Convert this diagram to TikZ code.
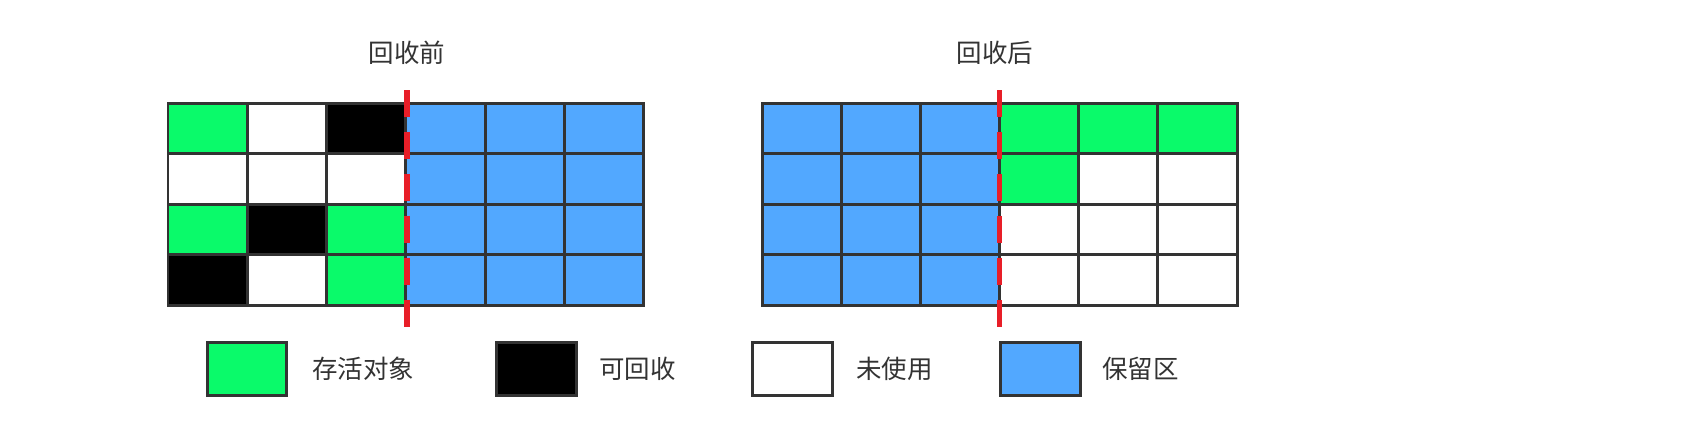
\documentclass[tikz,border=0pt]{standalone}
\usepackage{fontspec}
\newfontfamily\cjk{Noto Sans CJK SC}
\definecolor{alive}{RGB}{10,250,106}
\definecolor{spare}{RGB}{82,168,255}
\definecolor{gridgray}{RGB}{51,51,51}
\definecolor{txtgray}{RGB}{51,51,51}
\definecolor{cutred}{RGB}{232,30,40}
\begin{document}
\begin{tikzpicture}[x=0.02cm,y=-0.02cm,
	every node/.style={font=\cjk\fontsize{14.5}{16}\selectfont,text=txtgray},
	cell/.style={rectangle,draw=gridgray,line width=0.06cm,inner sep=0,
	minimum width=1.587cm,minimum height=1.01cm,fill=#1},
	swatch/.style={rectangle,draw=gridgray,line width=0.06cm,inner sep=0,
	minimum width=1.6cm,minimum height=1.06cm,fill=#1},
	cut/.style={draw=cutred,line width=0.11cm,dash pattern=on 0.54cm off 0.3cm}]
\useasboundingbox (0,0) rectangle (1686,440);
% before collection
\foreach \row [count=\r] in {{alive,white,black,spare,spare,spare},
	{white,white,white,spare,spare,spare},
	{alive,black,alive,spare,spare,spare},
	{black,white,alive,spare,spare,spare}}
	\foreach \c [count=\k] in \row
		\node[cell=\c] (L\r\k) at ({168+79.33*(\k-0.5)},{103+50.5*(\r-0.5)}) {};
% after collection
\foreach \row [count=\r] in {{spare,spare,spare,alive,alive,alive},
	{spare,spare,spare,alive,white,white},
	{spare,spare,spare,white,white,white},
	{spare,spare,spare,white,white,white}}
	\foreach \c [count=\k] in \row
		\node[cell=\c] (R\r\k) at ({763+79*(\k-0.5)},{103+50.5*(\r-0.5)}) {};
\node (before) at (407,53) {回收前};
\node (after) at (995,53) {回收后};
\coordinate (cutL-top) at (407,90);
\coordinate (cutL-bot) at (407,329);
\coordinate (cutR-top) at (999.5,90);
\coordinate (cutR-bot) at (999.5,329);
\draw[cut] (cutL-top) -- (cutL-bot);
\draw[cut] (cutR-top) -- (cutR-bot);
% legend
\node[swatch=alive] (keyA) at (247,368.5) {};
\node[anchor=west,inner sep=0] (labA) at (312,369) {存活对象};
\node[swatch=black] (keyB) at (536.5,368.5) {};
\node[anchor=west,inner sep=0] (labB) at (599,369) {可回收};
\node[swatch=white] (keyC) at (792.5,368.5) {};
\node[anchor=west,inner sep=0] (labC) at (856,369) {未使用};
\node[swatch=spare] (keyD) at (1040,368.5) {};
\node[anchor=west,inner sep=0] (labD) at (1102,369) {保留区};
\end{tikzpicture}
\end{document}
